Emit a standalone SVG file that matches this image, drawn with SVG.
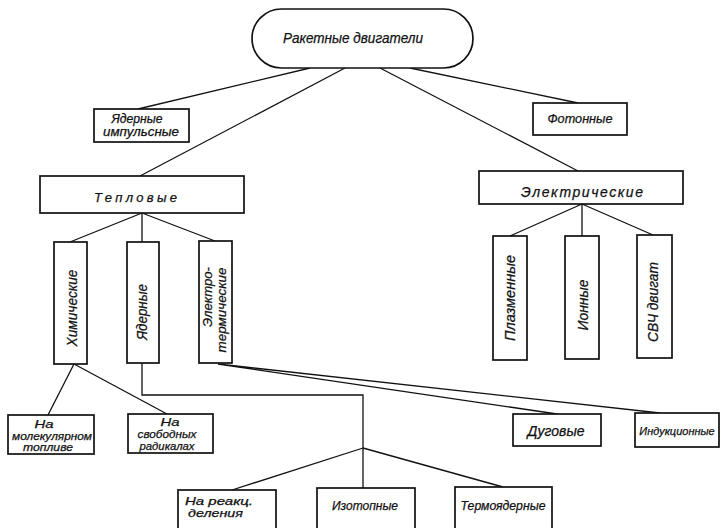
<svg xmlns="http://www.w3.org/2000/svg" width="722" height="528" viewBox="0 0 722 528">
<style>
.box{fill:#fff;stroke:#111;stroke-width:1.7}
.ln{fill:none;stroke:#111;stroke-width:1.3}
text{font-family:"Liberation Sans","DejaVu Sans",sans-serif;font-style:italic;fill:#111;stroke:#111;stroke-width:0.25}
.s{font-size:11px}
.t{font-size:12px}
.m{font-size:13px}
.l{font-size:14px}
.c{text-anchor:middle}
</style>
<rect width="722" height="528" fill="#fff"/>
<g id="connectors">
<path class="ln" d="M310,68 L138,109"/>
<path class="ln" d="M345,68 L140,176"/>
<path class="ln" d="M380,68 L578,171"/>
<path class="ln" d="M410,68 L578,103"/>
<path class="ln" d="M142,213 L70,242 M142,213 L142,242 M142,213 L215,241"/>
<path class="ln" d="M74,364 L48,415 M74,364 L167,414"/>
<path class="ln" d="M142,363 L142,395 L363,395 L363,488"/>
<path class="ln" d="M363,448 L232,490 M363,448 L503,487"/>
<path class="ln" d="M218,364 L557,414 M218,364 L660,413"/>
<path class="ln" d="M582,204 L510,236 M582,204 L582,236 M582,204 L653,235"/>
</g>
<g id="n-root"><rect class="box" x="252" y="9" width="221" height="59" rx="29.5"/><text class="l c" x="353" y="43" textLength="140" lengthAdjust="spacingAndGlyphs">Ракетные двигатели</text></g>
<g id="n-yadimp"><rect class="box" x="94" y="109" width="95" height="33"/><text class="t c" x="137" y="123" textLength="51" lengthAdjust="spacingAndGlyphs">Ядерные</text><text class="t c" x="141" y="136" textLength="76" lengthAdjust="spacingAndGlyphs">импульсные</text></g>
<g id="n-foton"><rect class="box" x="533" y="103" width="94" height="32"/><text class="m c" x="580" y="123" textLength="65" lengthAdjust="spacingAndGlyphs">Фотонные</text></g>
<g id="n-teplo"><rect class="box" x="40" y="176" width="204" height="37"/><text class="m" x="94" y="202" textLength="83" lengthAdjust="spacing">Тепловые</text></g>
<g id="n-elektr"><rect class="box" x="479" y="171" width="204" height="33"/><text class="l" x="521" y="197" textLength="122" lengthAdjust="spacing">Электрические</text></g>
<g id="n-khim"><rect class="box" x="54" y="242" width="33" height="122"/><text class="l c" transform="translate(77,308) rotate(-90)" textLength="77" lengthAdjust="spacingAndGlyphs">Химические</text></g>
<g id="n-yad"><rect class="box" x="127" y="242" width="32" height="121"/><text class="l c" transform="translate(147,312) rotate(-90)" textLength="56" lengthAdjust="spacingAndGlyphs">Ядерные</text></g>
<g id="n-elterm"><rect class="box" x="199" y="241" width="33" height="122"/><text class="m c" transform="translate(212,297) rotate(-90)" textLength="60" lengthAdjust="spacingAndGlyphs">Электро-</text><text class="m c" transform="translate(226,310) rotate(-90)" textLength="85" lengthAdjust="spacingAndGlyphs">термические</text></g>
<g id="n-plazm"><rect class="box" x="493" y="236" width="34" height="124"/><text class="l c" transform="translate(515,298) rotate(-90)" textLength="86" lengthAdjust="spacingAndGlyphs">Плазменные</text></g>
<g id="n-ion"><rect class="box" x="565" y="236" width="34" height="123"/><text class="l c" transform="translate(588,305) rotate(-90)" textLength="51" lengthAdjust="spacingAndGlyphs">Ионные</text></g>
<g id="n-svch"><rect class="box" x="637" y="235" width="35" height="123"/><text class="l c" transform="translate(658,302) rotate(-90)" textLength="80" lengthAdjust="spacingAndGlyphs">СВЧ двигат</text></g>
<g id="n-molek"><rect class="box" x="8" y="415" width="86" height="39"/><text class="s c" x="44" y="428" textLength="19" lengthAdjust="spacingAndGlyphs">На</text><text class="s c" x="52" y="440" textLength="80" lengthAdjust="spacingAndGlyphs">молекулярном</text><text class="s c" x="48" y="451" textLength="50" lengthAdjust="spacingAndGlyphs">топливе</text></g>
<g id="n-radik"><rect class="box" x="128" y="414" width="85" height="39"/><text class="s c" x="170" y="426" textLength="19" lengthAdjust="spacingAndGlyphs">На</text><text class="s c" x="167" y="438" textLength="59" lengthAdjust="spacingAndGlyphs">свободных</text><text class="s c" x="167" y="450" textLength="55" lengthAdjust="spacingAndGlyphs">радикалах</text></g>
<g id="n-dug"><rect class="box" x="513" y="414" width="88" height="32"/><text class="l c" x="556" y="436" textLength="57" lengthAdjust="spacingAndGlyphs">Дуговые</text></g>
<g id="n-induk"><rect class="box" x="635" y="413" width="84" height="34"/><text class="s c" x="677" y="435">Индукционные</text></g>
<g id="n-delen"><rect class="box" x="178" y="490" width="98" height="50"/><text class="s" x="185" y="505" textLength="68" lengthAdjust="spacingAndGlyphs">На реакц.</text><text class="s" x="188" y="517" textLength="55" lengthAdjust="spacingAndGlyphs">деления</text></g>
<g id="n-izot"><rect class="box" x="317" y="488" width="98" height="52"/><text class="m c" x="365" y="510" textLength="66" lengthAdjust="spacingAndGlyphs">Изотопные</text></g>
<g id="n-termo"><rect class="box" x="455" y="487" width="97" height="53"/><text class="m c" x="503" y="510" textLength="85" lengthAdjust="spacingAndGlyphs">Термоядерные</text></g>
</svg>
